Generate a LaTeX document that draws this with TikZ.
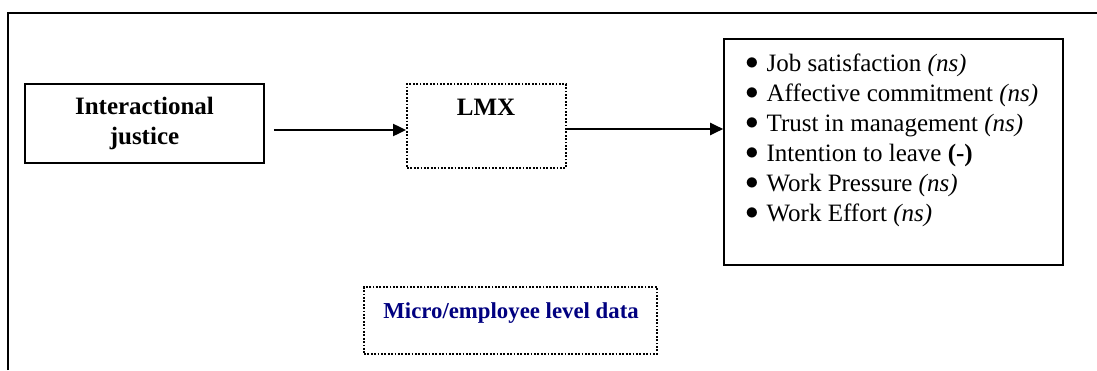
\documentclass[tikz,border=0pt]{standalone}
\usepackage{fontspec}
\setmainfont{Liberation Serif}
\usetikzlibrary{arrows.meta,fit}
\definecolor{navytext}{RGB}{0,0,128}
\newcommand{\listdot}{\raisebox{0.8pt}{\scalebox{1.1}{$\bullet$}}}
\begin{document}
\begin{tikzpicture}[x=0.5pt,y=-0.5pt,
  solidbox/.style={draw, line width=0.8pt, inner sep=0pt},
  dotbox/.style={draw, line width=0.9pt, dash pattern=on 0.9pt off 0.8pt, inner sep=0pt},
  link/.style={line width=1pt, -{Triangle[length=6.5pt,width=6pt]}},
  txt/.style={font=\fontsize{12.5}{15}\selectfont, inner sep=0pt},
  boldtxt/.style={font=\fontsize{12.5}{15}\selectfont\bfseries, inner sep=0pt}]
\useasboundingbox (0,0) rectangle (1097,370);

% page frame (left and top edges)
\draw[line width=1.2pt] (8,370) -- (8,13) -- (1097,13);

% boxes
\node[solidbox, fit={(25,84) (264,163)}] (ij) {};
\node[dotbox, fit={(407,84) (566,168)}] (lmx) {};
\node[solidbox, fit={(724,39) (1063,265)}] (out) {};
\node[dotbox, fit={(364,287) (657,354)}] (micro) {};

% box texts
\node[boldtxt, align=center] (ijtext) at (ij.center) {Interactional\\justice};
\node[boldtxt, anchor=base] (lmxtext) at (486,115) {LMX};
\node[boldtxt, font=\fontsize{11.4}{14}\selectfont\bfseries, text=navytext, anchor=base west] (microtext) at (383,318) {Micro/employee level data};
\node[txt, anchor=base west] (list) at (745,71) {%
  \begin{tabular}[t]{@{}l@{\hspace{4pt}}l@{}}
  \listdot & Job satisfaction \textit{(ns)}\\
  \listdot & Affective commitment \textit{(ns)}\\
  \listdot & Trust in management \textit{(ns)}\\
  \listdot & Intention to leave \textbf{(-)}\\
  \listdot & Work Pressure \textit{(ns)}\\
  \listdot & Work Effort \textit{(ns)}
  \end{tabular}};

% connectors
\draw[link] ([shift={(9,6.5)}]ij.east) -- ([shift={(0,4)}]lmx.west);
\coordinate (a2) at ([shift={(0,3)}]lmx.east);
\draw[link] (a2) -- (a2 -| out.west);
\end{tikzpicture}
\end{document}
